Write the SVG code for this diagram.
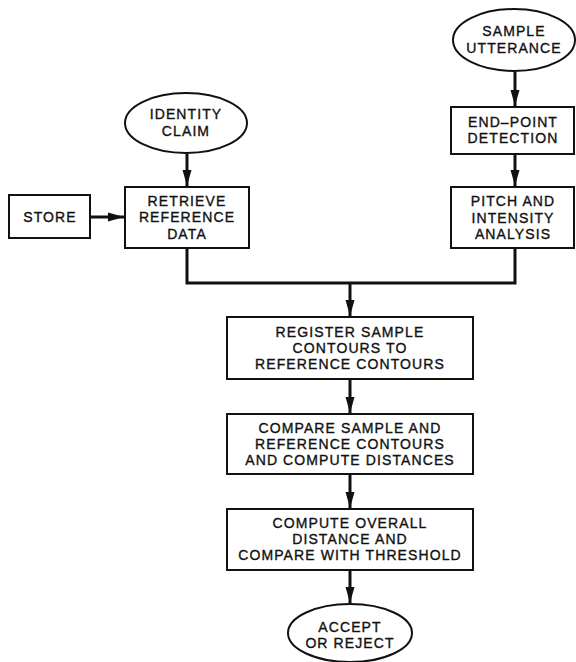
<svg xmlns="http://www.w3.org/2000/svg" width="576" height="662" viewBox="0 0 576 662">
<style>
.n{fill:#fff;stroke:#111;stroke-width:2}
.t{font-family:"Liberation Sans",Arial,sans-serif;font-size:14px;letter-spacing:1.1px;fill:#111;stroke:#111;stroke-width:0.35;text-anchor:middle}
.c{fill:none;stroke:#111;stroke-width:3}
</style>
<defs>
<marker id="ah" viewBox="0 0 16 10" refX="16" refY="5" markerWidth="16" markerHeight="10" markerUnits="userSpaceOnUse" orient="auto">
<path d="M0,0.5 L16,5 L0,9.5 Z" fill="#111"/>
</marker>
</defs>
<rect width="576" height="662" fill="#fff"/>
<g id="connectors">
<line class="c" x1="187" y1="154" x2="187" y2="186" marker-end="url(#ah)"/>
<line class="c" x1="90" y1="217" x2="124" y2="217" marker-end="url(#ah)"/>
<line class="c" x1="515" y1="72" x2="515" y2="106" marker-end="url(#ah)"/>
<line class="c" x1="515" y1="155" x2="515" y2="186" marker-end="url(#ah)"/>
<polyline class="c" points="187,249 187,283 515,283 515,249"/>
<line class="c" x1="350" y1="283" x2="350" y2="316" marker-end="url(#ah)"/>
<line class="c" x1="350" y1="380" x2="350" y2="413" marker-end="url(#ah)"/>
<line class="c" x1="350" y1="475" x2="350" y2="508" marker-end="url(#ah)"/>
<line class="c" x1="350" y1="571" x2="350" y2="603" marker-end="url(#ah)"/>
</g>
<g id="identity-claim">
<ellipse class="n" cx="186" cy="123" rx="61" ry="30"/>
<text class="t" x="186" y="119">IDENTITY</text>
<text class="t" x="186" y="136">CLAIM</text>
</g>
<g id="store">
<rect class="n" x="9" y="195" width="81" height="43"/>
<text class="t" x="50" y="222">STORE</text>
</g>
<g id="retrieve">
<rect class="n" x="125" y="187" width="124" height="61"/>
<text class="t" x="187" y="206">RETRIEVE</text>
<text class="t" x="187" y="222">REFERENCE</text>
<text class="t" x="187" y="239">DATA</text>
</g>
<g id="sample-utterance">
<ellipse class="n" cx="514" cy="40" rx="61" ry="31"/>
<text class="t" x="514" y="36">SAMPLE</text>
<text class="t" x="514" y="53">UTTERANCE</text>
</g>
<g id="end-point">
<rect class="n" x="451" y="107" width="123" height="47"/>
<text class="t" x="513" y="127">END–POINT</text>
<text class="t" x="513" y="143">DETECTION</text>
</g>
<g id="pitch">
<rect class="n" x="451" y="187" width="123" height="61"/>
<text class="t" x="513" y="206">PITCH AND</text>
<text class="t" x="513" y="223">INTENSITY</text>
<text class="t" x="513" y="239">ANALYSIS</text>
</g>
<g id="register">
<rect class="n" x="227" y="317" width="246" height="62"/>
<text class="t" x="350" y="337">REGISTER SAMPLE</text>
<text class="t" x="350" y="353">CONTOURS TO</text>
<text class="t" x="350" y="369">REFERENCE CONTOURS</text>
</g>
<g id="compare">
<rect class="n" x="227" y="414" width="246" height="60"/>
<text class="t" x="350" y="433">COMPARE SAMPLE AND</text>
<text class="t" x="350" y="449">REFERENCE CONTOURS</text>
<text class="t" x="350" y="465">AND COMPUTE DISTANCES</text>
</g>
<g id="compute">
<rect class="n" x="227" y="509" width="246" height="61"/>
<text class="t" x="350" y="528">COMPUTE OVERALL</text>
<text class="t" x="350" y="544">DISTANCE AND</text>
<text class="t" x="350" y="560">COMPARE WITH THRESHOLD</text>
</g>
<g id="accept">
<ellipse class="n" cx="350" cy="633" rx="62" ry="29"/>
<text class="t" x="350" y="632">ACCEPT</text>
<text class="t" x="350" y="648">OR REJECT</text>
</g>
</svg>
